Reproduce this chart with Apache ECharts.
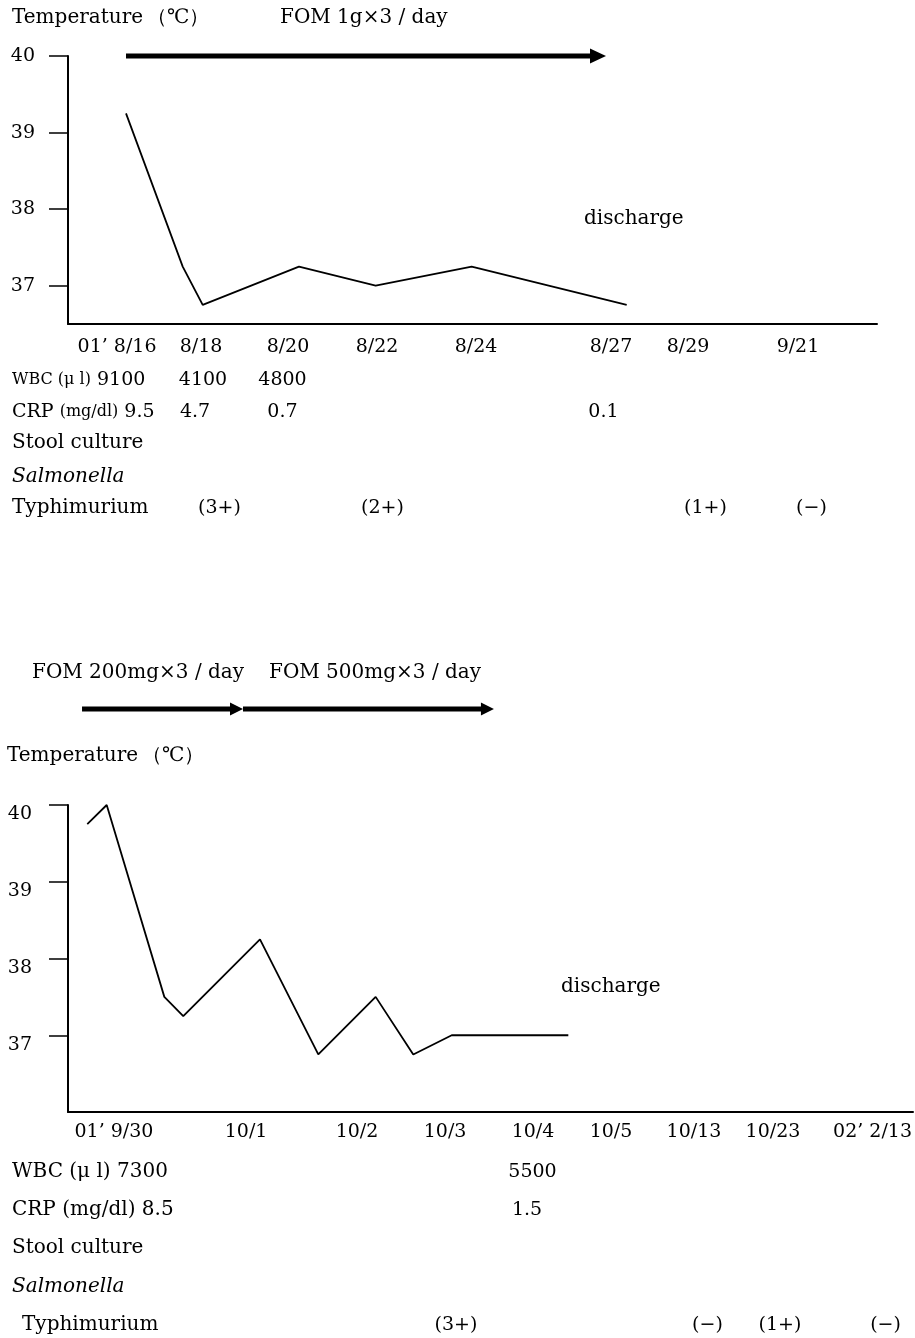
<!DOCTYPE html>
<html>
<head>
<meta charset="utf-8">
<script src="https://cdn.jsdelivr.net/npm/echarts@6/dist/echarts.min.js"></script>
<style>
  html, body { margin: 0; padding: 0; background: #fff; }
  #chart { width: 915px; height: 1338px; }
</style>
</head>
<body>
<div id="chart"></div>
<script>
// ---------- Case 1 (top) ----------
const topDates = ["01\u2019 8/16", "8/18", "8/20", "8/22", "8/24", "8/27", "8/29", "9/21"];
const topDateX = [6.06, 16.44, 27.19, 38.20, 50.43, 67.12, 76.64, 90.23];
const topTempX = [7.17, 14.18, 16.65, 28.55, 38.03, 49.90, 69.06];
const topTemp = [39.25, 37.25, 36.75, 37.25, 37.0, 37.25, 36.75];
const topWBC = [9100, 4100, 4800];
const topWBCX = [null, 16.69, 26.51];
const topCRP = ["9.5", "4.7", "0.7", "0.1"];
const topCRPX = [null, 15.70, 26.51, 66.19];
const topCulture = ["(3+)", "(2+)", "(1+)", "(\u2212)"];
const topCultureX = [18.73, 38.88, 78.80, 91.90];
const topDrug = "FOM 1g\u00d73 / day";
const topDrugX = [7.17, 66.50];

// ---------- Case 2 (bottom) ----------
const botDates = ["01\u2019 9/30", "10/1", "10/2", "10/3", "10/4", "10/5", "10/13", "10/23", "02\u2019 2/13"];
const botDateX = [5.44, 21.07, 34.20, 44.62, 55.03, 64.26, 74.08, 83.43, 95.21];
const botTempX = [2.28, 4.58, 11.40, 13.64, 22.72, 29.62, 36.41, 40.86, 45.41, 59.21];
const botTemp = [39.75, 40, 37.5, 37.25, 38.25, 36.75, 37.5, 36.75, 37.0, 37.0];
const botWBC = [7300, 5500];
const botWBCX = [null, 54.97];
const botCRP = ["8.5", "1.5"];
const botCRPX = [null, 54.32];
const botCulture = ["(3+)", "(\u2212)", "(1+)", "(\u2212)"];
const botCultureX = [45.92, 75.68, 84.26, 96.75];
const botDrugs = ["FOM 200mg\u00d73 / day", "FOM 500mg\u00d73 / day"];
const botDrugX = [[1.66, 20.71], [20.71, 50.41]];

const yTicks = [37, 38, 39, 40];

const FONT = '"DejaVu Serif", "Liberation Serif", serif';
const BLACK = '#000';
const WORD = 20;

const chart = echarts.init(document.getElementById('chart'), null, { renderer: 'canvas' });

function xAxisCfg(gridIndex, xs, labels, margin) {
  return {
    type: 'value', gridIndex, min: 0, max: 100,
    axisLine: { show: true, onZero: false, lineStyle: { color: BLACK, width: 2 } },
    axisTick: { show: false },
    splitLine: { show: false },
    axisLabel: {
      customValues: xs,
      formatter: function (v) {
        let best = 0, bd = Infinity;
        xs.forEach((x, i) => { const d = Math.abs(x - v); if (d < bd) { bd = d; best = i; } });
        return labels[best];
      },
      color: BLACK, fontFamily: FONT, fontSize: 19, margin
    }
  };
}
function yAxisCfg(gridIndex, min, labelMargin, vAlign) {
  return {
    type: 'value', gridIndex, min, max: 40,
    axisLine: { show: true, onZero: false, lineStyle: { color: BLACK, width: 2 } },
    axisTick: { show: true, customValues: yTicks, length: 19, lineStyle: { color: BLACK, width: 1.5 } },
    splitLine: { show: false },
    axisLabel: { customValues: yTicks, color: BLACK, fontFamily: FONT, fontSize: 19, margin: labelMargin, verticalAlign: vAlign }
  };
}

chart.setOption({
  animation: false,
  backgroundColor: '#fff',
  grid: [
    { left: 68, top: 56, width: 809, height: 268 },
    { left: 68, top: 805, width: 845, height: 307 }
  ],
  xAxis: [xAxisCfg(0, topDateX, topDates, 14), xAxisCfg(1, botDateX, botDates, 11)],
  yAxis: [yAxisCfg(0, 36.5, 33, 'middle'), yAxisCfg(1, 36, 36, 'top')],
  series: [
    {
      type: 'line', xAxisIndex: 0, yAxisIndex: 0, symbol: 'none',
      lineStyle: { color: BLACK, width: 1.8 },
      data: topTempX.map((x, i) => [x, topTemp[i]])
    },
    {
      type: 'line', xAxisIndex: 1, yAxisIndex: 1, symbol: 'none',
      lineStyle: { color: BLACK, width: 1.8 },
      data: botTempX.map((x, i) => [x, botTemp[i]])
    }
  ]
});

function px(axisIndex, v) { return chart.convertToPixel({ xAxisIndex: axisIndex }, v); }
function T(text, x, y, extra) {
  return {
    type: 'text', x, y, silent: true,
    style: Object.assign({ text, fill: BLACK, fontFamily: FONT, fontSize: 19, align: 'left', verticalAlign: 'middle' }, extra || {})
  };
}
function arrow(x1, x2, y, head, hw) {
  return [
    { type: 'line', silent: true, shape: { x1, y1: y, x2: x2 - head + 1, y2: y }, style: { stroke: BLACK, lineWidth: 5 } },
    { type: 'polygon', silent: true, shape: { points: [[x2 - head, y - hw], [x2, y], [x2 - head, y + hw]] }, style: { fill: BLACK } }
  ];
}
const W = { fontSize: WORD };
const tempLabel = 'Temperature\u2009\uff08\u2103\uff09';

const g = [];
// top texts
g.push(T(tempLabel, 12, 18, W));
g.push(T(topDrug, 280, 18, W));
const topArrowY = chart.convertToPixel({ yAxisIndex: 0 }, 40);
g.push(...arrow(px(0, topDrugX[0]), px(0, topDrugX[1]), topArrowY, 16, 7.5));
g.push(T('discharge', 584, 219, W));
g.push(T('', 12, 380, {
  text: '{h|WBC (\u03bc l)} {v|' + topWBC[0] + '}',
  rich: { h: { fontFamily: FONT, fontSize: 16, fill: BLACK }, v: { fontFamily: FONT, fontSize: 19, fill: BLACK } }
}));
topWBC.forEach((v, i) => { if (i > 0) g.push(T(String(v), px(0, topWBCX[i]), 380, { align: 'center' })); });
g.push(T('', 12, 412, {
  text: '{c|CRP} {h|(mg/dl)} {v|' + topCRP[0] + '}',
  rich: { c: { fontFamily: FONT, fontSize: 19, fill: BLACK }, h: { fontFamily: FONT, fontSize: 16, fill: BLACK }, v: { fontFamily: FONT, fontSize: 19, fill: BLACK } }
}));
topCRP.forEach((v, i) => { if (i > 0) g.push(T(v, px(0, topCRPX[i]), 412, { align: 'center' })); });
g.push(T('Stool culture', 12, 443, W));
g.push(T('Salmonella', 12, 477, { fontStyle: 'italic', fontSize: WORD }));
g.push(T('Typhimurium', 12, 508, W));
topCulture.forEach((v, i) => g.push(T(v, px(0, topCultureX[i]), 508, { align: 'center' })));

// bottom texts
g.push(T(botDrugs[0], 32, 673, W));
g.push(T(botDrugs[1], 269, 673, W));
botDrugX.forEach(r => g.push(...arrow(px(1, r[0]), px(1, r[1]), 709, 13, 6.5)));
g.push(T(tempLabel, 7, 756, W));
g.push(T('discharge', 561, 987, W));
g.push(T('WBC (\u03bc l) ' + botWBC[0], 12, 1172, W));
botWBC.forEach((v, i) => { if (i > 0) g.push(T(String(v), px(1, botWBCX[i]), 1172, { align: 'center' })); });
g.push(T('CRP (mg/dl) ' + botCRP[0], 12, 1210, W));
botCRP.forEach((v, i) => { if (i > 0) g.push(T(v, px(1, botCRPX[i]), 1210, { align: 'center' })); });
g.push(T('Stool culture', 12, 1248, W));
g.push(T('Salmonella', 12, 1287, { fontStyle: 'italic', fontSize: WORD }));
g.push(T('Typhimurium', 22, 1325, W));
botCulture.forEach((v, i) => g.push(T(v, px(1, botCultureX[i]), 1325, { align: 'center' })));

chart.setOption({ graphic: g });
</script>
</body>
</html>
